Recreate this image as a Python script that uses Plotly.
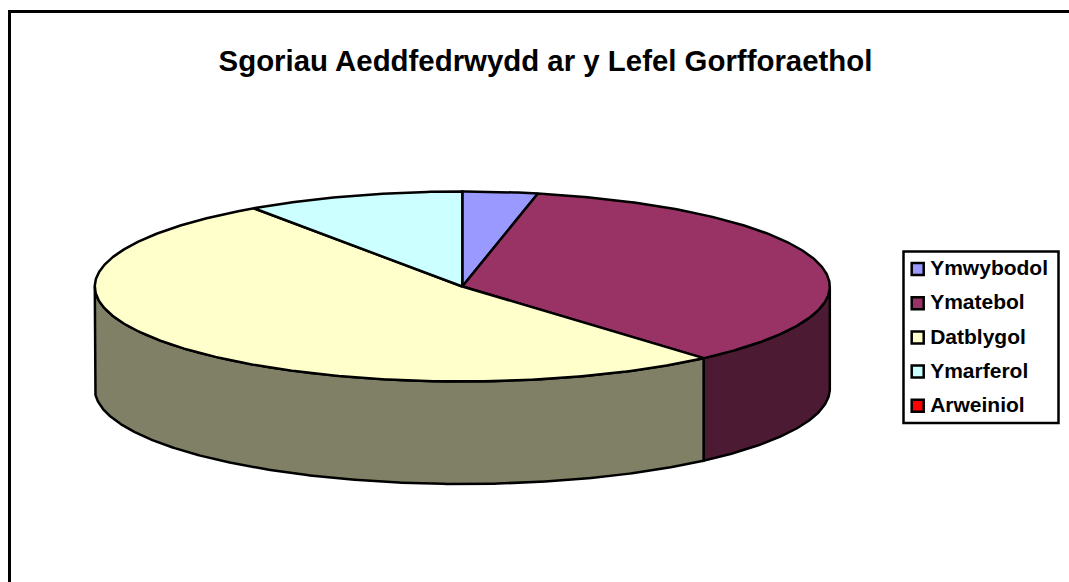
import numpy as np
import plotly.graph_objects as go

# Data
categories = ["Ymwybodol", "Ymatebol", "Datblygol", "Ymarferol", "Arweiniol"]
shares = [3.3, 35.3, 51.8, 9.6, 0.0]
top_colors = ["#9999FF", "#993366", "#FFFFCC", "#CCFFFF", "#FF0000"]
side_colors = ["#4D4D80", "#4D1A33", "#808066", "#668080", "#800000"]
title_text = "Sgoriau Aeddfedrwydd ar y Lefel Gorfforaethol"

# Layout constants (pixel space)
W, H = 1069, 582
CX, CY, RX, RY, DEPTH = 462.3, 286.5, 367.5, 95.0, 102.5
LEG_X, LEG_Y0, LEG_STEP = 917.7, 269.0, 34.2
LEG_TEXT_DX, LEG_TEXT_DY = 12.5, 1.0
FONT = "Liberation Sans, Arial, sans-serif"
EDGE = 2.5


def rim(a_deg, b_deg, dz=0.0):
    n = max(2, int(abs(b_deg - a_deg) * 2) + 1)
    t = np.radians(np.linspace(a_deg, b_deg, n))
    return CX + RX * np.sin(t), CY - RY * np.cos(t) + dz


fig = go.Figure()
total = sum(shares)
edges = np.concatenate([[0.0], np.cumsum(shares) / total * 360.0])

# front walls
for i, name in enumerate(categories):
    a, b = max(edges[i], 90.0), min(edges[i + 1], 270.0)
    if b <= a:
        continue
    x1, y1 = rim(a, b)
    x2, y2 = rim(b, a, DEPTH)
    fig.add_trace(go.Scatter(
        x=np.r_[x1, x2, x1[0]], y=np.r_[y1, y2, y1[0]], mode="lines", fill="toself",
        fillcolor=side_colors[i], line=dict(color="black", width=EDGE),
        showlegend=False, hoverinfo="skip"))

# top slices
for i, name in enumerate(categories):
    a, b = edges[i], edges[i + 1]
    if b <= a:
        continue
    x1, y1 = rim(a, b)
    fig.add_trace(go.Scatter(
        x=np.r_[CX, x1, CX], y=np.r_[CY, y1, CY], mode="lines", fill="toself",
        fillcolor=top_colors[i], line=dict(color="black", width=EDGE),
        name=name, showlegend=False, hoveron="fills", text=f"{name}: {shares[i]}%", hoverinfo="text"))

# legend keys and labels
for i, name in enumerate(categories):
    y = LEG_Y0 + i * LEG_STEP
    fig.add_trace(go.Scatter(
        x=[LEG_X], y=[y], mode="markers",
        marker=dict(symbol="square", size=12, color=top_colors[i], line=dict(color="black", width=2.5)),
        showlegend=False, hoverinfo="skip"))
    fig.add_trace(go.Scatter(
        x=[LEG_X + LEG_TEXT_DX], y=[y + LEG_TEXT_DY], mode="text",
        text=[name], textposition="middle right",
        textfont=dict(family=FONT, size=21, color="black", weight="bold"),
        showlegend=False, hoverinfo="skip"))

fig.update_layout(
    width=W, height=H, margin=dict(l=0, r=0, t=0, b=0, pad=0),
    paper_bgcolor="white", plot_bgcolor="white", showlegend=False,
    title=dict(text=f"<b>{title_text}</b>", x=545.5 / W, xanchor="center", y=1 - 61 / H, yanchor="middle",
               font=dict(family=FONT, size=29.4, color="black")),
    xaxis=dict(range=[0, W], visible=False, fixedrange=True),
    yaxis=dict(range=[H, 0], visible=False, fixedrange=True),
    shapes=[
        dict(type="line", xref="x", yref="y", x0=9.5, x1=9.5, y0=11.5, y1=H + 5, line=dict(color="black", width=3), layer="above"),
        dict(type="line", xref="x", yref="y", x0=8, x1=W + 5, y0=11.5, y1=11.5, line=dict(color="black", width=3), layer="above"),
        dict(type="rect", xref="x", yref="y", x0=903.5, x1=1058.5, y0=251.5, y1=423, line=dict(color="black", width=2.5), layer="below"),
    ],
)
fig.write_html("out.html", config=dict(displayModeBar=False),
               post_script="document.body.style.margin='0';document.body.style.overflow='hidden';")
